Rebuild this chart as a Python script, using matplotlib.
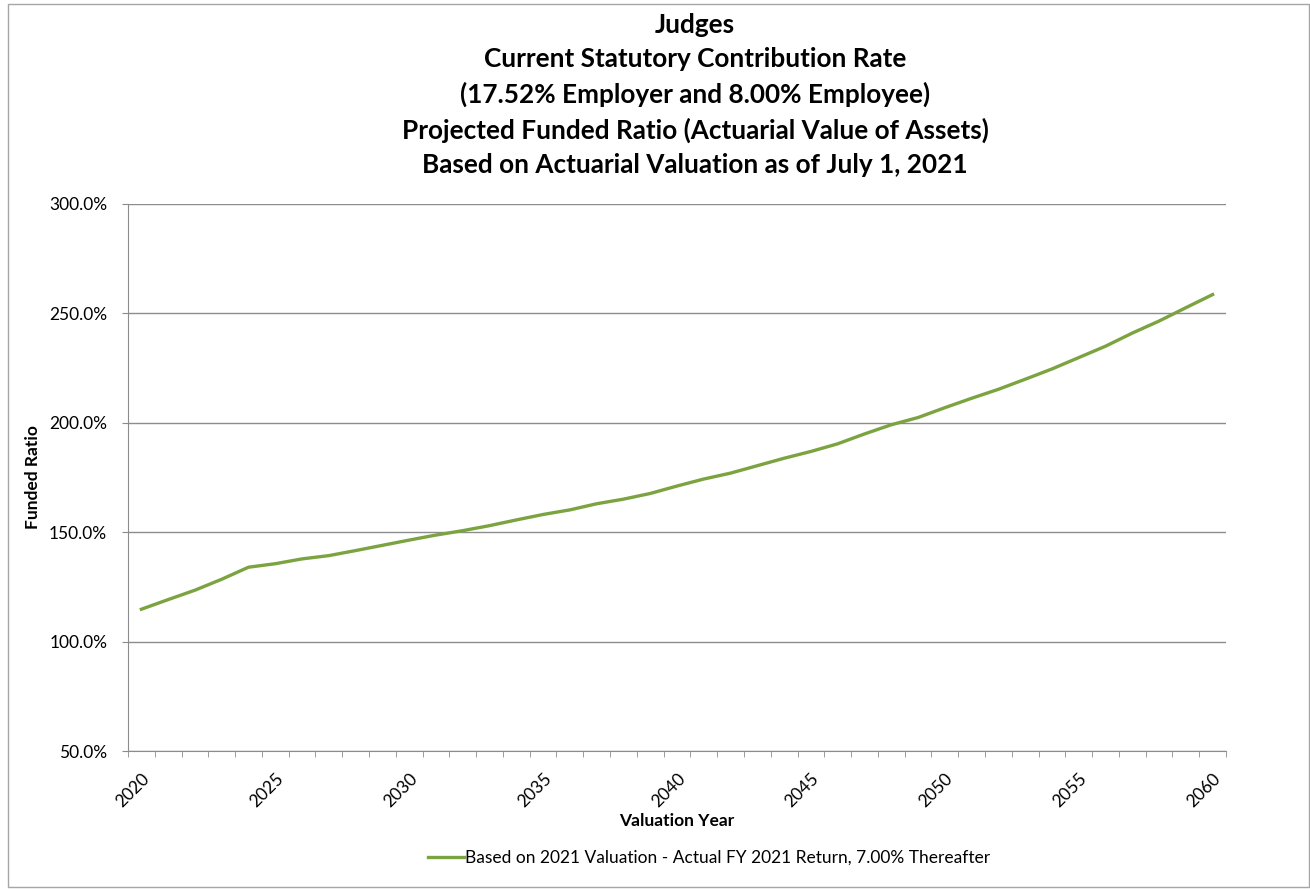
import matplotlib
matplotlib.use('Agg')
import matplotlib.pyplot as plt
from matplotlib.patches import Rectangle
from matplotlib.ticker import FuncFormatter, FixedLocator

plt.rcParams['font.family'] = ['Lato', 'DejaVu Sans']

# 데이터
years = list(range(2020, 2061))
funded = [114.8, 119.2, 123.5, 128.5, 134.0, 135.6, 137.8, 139.3, 141.6, 144.0,
          146.4, 148.7, 150.7, 153.0, 155.6, 158.1, 160.2, 163.0, 165.1, 167.7,
          171.1, 174.3, 177.0, 180.4, 183.8, 186.9, 190.4, 194.9, 199.1, 202.4,
          206.9, 211.2, 215.3, 219.9, 224.6, 229.8, 235.0, 241.0, 246.5, 252.6,
          258.6]
yticks = [50, 100, 150, 200, 250, 300]
series_label = 'Based on 2021 Valuation - Actual FY 2021 Return, 7.00% Thereafter'
title = ('Judges\nCurrent Statutory Contribution Rate\n'
         '(17.52% Employer and 8.00% Employee)\n'
         'Projected Funded Ratio (Actuarial Value of Assets)\n'
         'Based on Actuarial Valuation as of July 1, 2021')

W, H = 1310, 890
fig = plt.figure(figsize=(W / 100, H / 100), dpi=100)
ax = fig.add_axes([128 / W, 1 - 751 / H, (1226 - 128) / W, (751 - 204) / H])

# 바깥 테두리
fig.patches.append(Rectangle((8 / W, 3 / H), 1 - 9 / W, 1 - 7 / H,
                             transform=fig.transFigure, fill=False,
                             edgecolor='#a6a6a6', lw=1))

x = list(range(len(years)))
ax.plot(x, funded, color='#7BA33F', lw=2.4, label=series_label,
        solid_joinstyle='round')

grid_c = '#8c8c8c'
fs = 12.5
ax.set_xlim(-0.5, len(years) - 0.5)
ax.set_ylim(50, 300)
ax.set_yticks(yticks)
ax.yaxis.set_major_formatter(FuncFormatter(lambda v, p: f'{v:.1f}%'))
ax.grid(axis='y', color=grid_c, lw=1)

# x축: 눈금은 카테고리 경계, 라벨은 5년마다
ax.xaxis.set_minor_locator(FixedLocator([i - 0.5 for i in range(len(years) + 1)]))
major = [i for i, yr in enumerate(years) if yr % 5 == 0]
ax.set_xticks(major)
ax.set_xticklabels([str(years[i]) for i in major], rotation=45,
                   ha='right', va='top', rotation_mode='anchor')
ax.tick_params(axis='x', which='major', length=0, pad=14, labelsize=fs)
ax.tick_params(axis='x', which='minor', length=4, color=grid_c, direction='out')
ax.tick_params(axis='y', length=4, color=grid_c, labelsize=fs, pad=11)

for s in ['top', 'right']:
    ax.spines[s].set_visible(False)
for s in ['left', 'bottom']:
    ax.spines[s].set_color(grid_c)

ax.set_xlabel('Valuation Year', fontsize=fs, fontweight='bold', labelpad=2)
ax.set_ylabel('Funded Ratio', fontsize=fs, fontweight='bold', labelpad=6)

fig.text(695 / W, 1 - 13 / H, title, ha='center', va='top', fontsize=18.8,
         fontweight='bold', linespacing=1.5)

fig.legend(loc='center', bbox_to_anchor=(709 / W, 1 - 858 / H), frameon=False,
           fontsize=fs, handlelength=2.05, handletextpad=0.05)

fig.savefig('out.png', dpi=100)
